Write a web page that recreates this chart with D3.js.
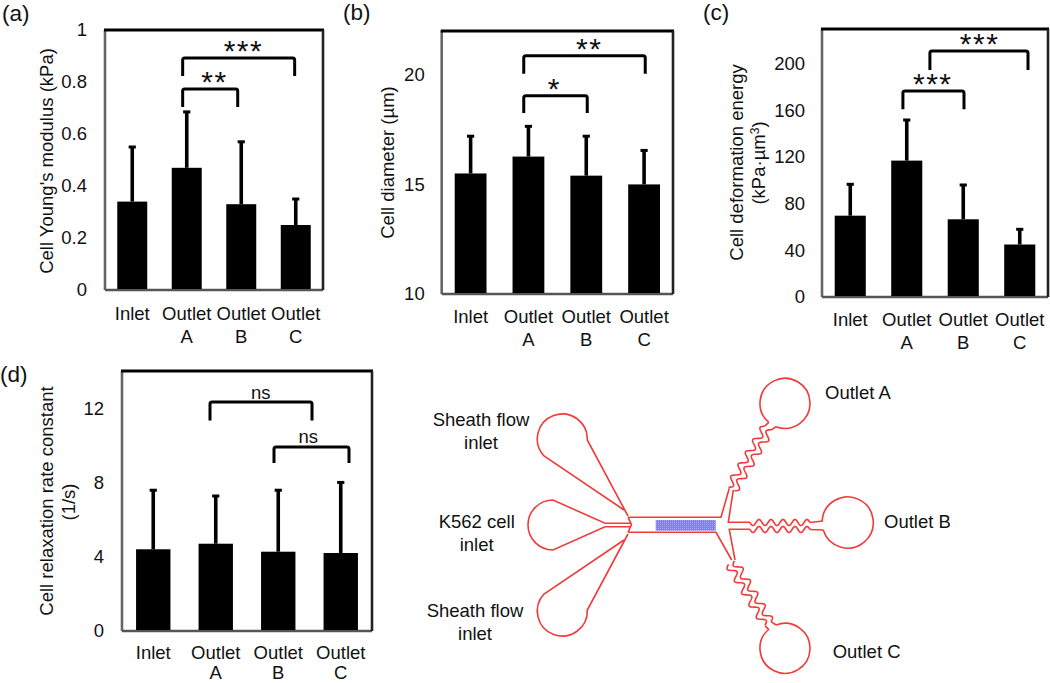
<!DOCTYPE html>
<html lang="en">
<head>
<meta charset="UTF-8"/>
<title>Cell mechanics by outlet</title>
<script src="https://d3js.org/d3.v7.min.js"></script>
<style>
  html, body { margin: 0; padding: 0; background: #fff; }
  svg { display: block; }
  text { font-family: "Liberation Sans", Arial, sans-serif; fill: #111; }
  .tick text { font-size: 18.5px; }
  .chan { fill: none; stroke: #f23a3a; stroke-width: 1.6px; }
</style>
</head>
<body>
<svg id="fig" width="1050" height="683"></svg>
<script>
const categories = [['Inlet'], ['Outlet', 'A'], ['Outlet', 'B'], ['Outlet', 'C']];

const youngMean = [0.34, 0.47, 0.33, 0.25];
const youngTop = [0.55, 0.685, 0.57, 0.35];
const youngTicks = [0, 0.2, 0.4, 0.6, 0.8, 1];

const diameterMean = [15.5, 16.27, 15.4, 15.0];
const diameterTop = [17.2, 17.65, 17.2, 16.55];
const diameterTicks = [10, 15, 20];

const energyMean = [69.7, 116.9, 66.6, 45];
const energyTop = [96.6, 151.7, 96, 58];
const energyTicks = [0, 40, 80, 120, 160, 200];

const relaxMean = [4.4, 4.7, 4.27, 4.2];
const relaxTop = [7.58, 7.27, 7.58, 8];
const relaxTicks = [0, 4, 8, 12];

// brackets: from bar, to bar, top value, foot value, label, label bar position
const youngBrackets = [[0.925, 2.98, 0.892, 0.823, '***', 2.04], [0.925, 1.935, 0.773, 0.704, '**', 1.51]];
const diameterBrackets = [[0.919, 3.02, 20.87, 20.05, '**', 2.05], [0.919, 2.017, 19.05, 18.26, '*', 1.45]];
const energyBrackets = [[1.41, 3.146, 210.9, 194.6, '***', 2.29], [0.932, 2.013, 176.6, 161, '***', 1.46]];
const relaxBrackets = [[0.908, 2.54, 12.33, 11.34, 'ns', 1.72], [1.932, 3.132, 9.91, 9.05, 'ns', 2.48]];

const svg = d3.select('#fig');

function drawPanel(p) {
  const g = svg.append('g');
  const x = d3.scaleBand().domain(d3.range(4)).range([p.left, p.right]).paddingInner(0.45).paddingOuter(0.225);
  const y = d3.scaleLinear().domain(p.domain).range([p.bottom, p.top]);
  const mid = i => x(0) + x.bandwidth() / 2 + i * x.step();

  // frame: top and right are darker than left and bottom
  g.append('path').attr('d', `M${p.left},${p.bottom}V${p.top}`).attr('stroke', '#666').attr('stroke-width', 2.6);
  g.append('path').attr('d', `M${p.left},${p.bottom}H${p.right}`).attr('stroke', '#555').attr('stroke-width', 2.6);
  g.append('path').attr('d', `M${p.left - 1},${p.top}H${p.right + 1}`).attr('stroke', '#000').attr('stroke-width', 3);
  g.append('path').attr('d', `M${p.right},${p.top}V${p.bottom}`).attr('stroke', '#222').attr('stroke-width', 2.6);

  g.selectAll('.bar').data(p.mean).join('rect')
    .attr('class', 'bar').attr('fill', '#000')
    .attr('x', (d, i) => x(i)).attr('width', x.bandwidth())
    .attr('y', d => y(d)).attr('height', d => p.bottom - 1 - y(d));

  g.selectAll('.stem').data(p.mean).join('line')
    .attr('class', 'stem').attr('stroke', '#000').attr('stroke-width', 3.6)
    .attr('x1', (d, i) => mid(i)).attr('x2', (d, i) => mid(i))
    .attr('y1', d => y(d)).attr('y2', (d, i) => y(p.errTop[i]));
  g.selectAll('.cap').data(p.errTop).join('line')
    .attr('class', 'cap').attr('stroke', '#000').attr('stroke-width', 3)
    .attr('x1', (d, i) => mid(i) - 3.6).attr('x2', (d, i) => mid(i) + 3.6)
    .attr('y1', d => y(d)).attr('y2', d => y(d));

  // axes carry labels only, no tick marks
  const yAxis = g.append('g').attr('transform', `translate(${p.left},0)`)
    .call(d3.axisLeft(y).tickValues(p.ticks).tickSize(0).tickPadding(p.padY).tickFormat(d3.format('~g')));
  yAxis.select('.domain').remove();

  const xAxis = g.append('g').attr('transform', `translate(0,${p.labelY})`)
    .call(d3.axisBottom(x).tickSize(0).tickPadding(0).tickFormat(''));
  xAxis.select('.domain').remove();
  xAxis.selectAll('.tick text').attr('y', 0).attr('dy', 0).each(function (d) {
    d3.select(this).selectAll('tspan').data(categories[d]).join('tspan')
      .attr('x', 0).attr('y', (t, i) => i * p.lineGap).text(t => t);
  });

  p.brackets.forEach(b => {
    const [from, to, topV, footV, label, labelAt] = b;
    const yT = y(topV), yF = y(footV);
    g.append('path').attr('fill', 'none').attr('stroke', '#000').attr('stroke-width', 3)
      .attr('d', `M${mid(from)},${yF}V${yT + 2}Q${mid(from)},${yT} ${mid(from) + 2},${yT}H${mid(to) - 2}Q${mid(to)},${yT} ${mid(to)},${yT + 2}V${yF}`);
    const isStar = label !== 'ns';
    g.append('text').attr('x', mid(labelAt)).attr('text-anchor', 'middle')
      .attr('y', isStar ? yT + 3 : yT - 3.5)
      .attr('font-size', isStar ? 30 : 18.5)
      .attr('letter-spacing', isStar ? 1.5 : 0)
      .text(label);
  });

  p.titles.forEach(t => {
    g.append('text').attr('text-anchor', 'middle').attr('font-size', 18.5)
      .attr('transform', `translate(${t.x},${t.y}) rotate(-90)`)
      .call(sel => t.parts.forEach(part => {
        sel.append('tspan').text(part.s)
          .attr('font-size', part.size || null)
          .attr('dy', part.dy || null);
      }));
  });

  g.append('text').attr('x', p.tagX).attr('y', p.tagY).attr('font-size', 22.5).text(p.tag);
}

drawPanel({
  tag: '(a)', tagX: 2, tagY: 21, left: 105, right: 323, top: 30, bottom: 290,
  domain: [0, 1], ticks: youngTicks, mean: youngMean, errTop: youngTop, brackets: youngBrackets,
  padY: 18, labelY: 320, lineGap: 23,
  titles: [{x: 53, y: 161, parts: [{s: "Cell Young's modulus (kPa)"}]}]
});
drawPanel({
  tag: '(b)', tagX: 343, tagY: 20, left: 441.7, right: 673, top: 31, bottom: 294,
  domain: [10, 22], ticks: diameterTicks, mean: diameterMean, errTop: diameterTop, brackets: diameterBrackets,
  padY: 17, labelY: 322.5, lineGap: 23,
  titles: [{x: 394, y: 162.5, parts: [{s: 'Cell diameter (µm)'}]}]
});
drawPanel({
  tag: '(c)', tagX: 703, tagY: 20, left: 822, right: 1048, top: 29, bottom: 297,
  domain: [0, 229.7], ticks: energyTicks, mean: energyMean, errTop: energyTop, brackets: energyBrackets,
  padY: 17, labelY: 326, lineGap: 23,
  titles: [
    {x: 743, y: 162.5, parts: [{s: 'Cell deformation energy'}]},
    {x: 765, y: 163, parts: [{s: '(kPa·µm'}, {s: '3', size: 12, dy: -6}, {s: ')', dy: 6}]}
  ]
});
drawPanel({
  tag: '(d)', tagX: 0, tagY: 381.5, left: 122, right: 372, top: 371, bottom: 631,
  domain: [0, 14], ticks: relaxTicks, mean: relaxMean, errTop: relaxTop, brackets: relaxBrackets,
  padY: 18, labelY: 659, lineGap: 20,
  titles: [
    {x: 53, y: 501, parts: [{s: 'Cell relaxation rate constant'}]},
    {x: 75, y: 502, parts: [{s: '(1/s)'}]}
  ]
});

// --- device schematic ---
const chip = svg.append('g').attr('class', 'chip');
const line = d3.line();

function chan(d) { chip.append('path').attr('class', 'chan').attr('d', d); }

const dots = svg.append('defs').append('pattern').attr('id', 'sample')
  .attr('width', 2).attr('height', 2).attr('patternUnits', 'userSpaceOnUse');
dots.append('rect').attr('width', 2).attr('height', 2).attr('fill', '#7f7ff0');
dots.append('rect').attr('width', 1).attr('height', 1).attr('fill', '#a8a8f6');

// teardrop inlets
chan('M628,516L587.3,440A25,25 0 1 0 544,456L624,510');
chan('M628,534L587.3,610A25,25 0 1 1 544,594L624,540');
chan('M630.7,523.3H605L553,500A25,25 0 1 0 553,550L605,526.7H630.7');

// main channel and the side walls leading to the serpentines
chan('M628,517.3H721L729.3,488.3');
chan('M628,532.3H716L731.7,560');
chan('M628,517.3L631.5,524.5L628,532.3');
chan('M733.3,490L728.3,522.3H750');
chan('M735,560L729.3,529.3H750');
chip.append('rect').attr('x', 655.7).attr('y', 520).attr('width', 60).attr('height', 10.7)
  .attr('fill', 'url(#sample)');

// wavy channel wall: same wave shifted sideways for each wall
function wavy(ax, ay, bx, by, turns, amp, offset) {
  const dx = bx - ax, dy = by - ay, len = Math.hypot(dx, dy);
  const nx = -dy / len, ny = dx / len;
  const pts = d3.range(0, 1.0001, 1 / (turns * 24)).map(t => {
    const s = Math.sin(2 * Math.PI * turns * t) * amp + offset;
    return [ax + dx * t + nx * s, ay + dy * t + ny * s];
  });
  chan(line(pts));
}
[-3.5, 3.5].forEach(o => {
  wavy(731.5, 489, 768, 428, 5, 3.6, o);
  wavy(750, 526, 810, 526, 5, 3, o);
  wavy(731.5, 562.6, 768, 623.6, 5, 3.6, o);
});

// outlet necks
chan('M765,425.8L768.8,422.3');
chan('M771.2,430L776,426.6');
chan('M810,522.5L823,521');
chan('M810,529.5L823,530');
chan('M765,625.8L768.8,629.3');
chan('M771.2,621.6L776,625');

// outlet reservoirs, open where the neck joins
function reservoir(cx, cy, r, towards, gap) {
  const p = d3.path();
  p.arc(cx, cy, r, towards + gap, towards + 2 * Math.PI - gap);
  chan(p.toString());
}
reservoir(785, 403.3, 25, Math.PI * 0.67, 0.17);
reservoir(847.7, 522.5, 25.6, Math.PI - 0.115, 0.175);
reservoir(785, 648.3, 25, -Math.PI * 0.67, 0.17);

const chipLabels = [
  ['Sheath flow', 481, 425.5], ['inlet', 481, 448.5],
  ['K562 cell', 476.7, 528], ['inlet', 476.7, 551],
  ['Sheath flow', 475, 616.5], ['inlet', 475, 639.5]
];
chip.selectAll('.lab').data(chipLabels).join('text')
  .attr('class', 'lab').attr('text-anchor', 'middle').attr('font-size', 18.5)
  .attr('x', d => d[1]).attr('y', d => d[2]).text(d => d[0]);

const outletLabels = [['Outlet A', 825, 399], ['Outlet B', 884, 528], ['Outlet C', 832.7, 658]];
chip.selectAll('.out').data(outletLabels).join('text')
  .attr('class', 'out').attr('font-size', 18.5)
  .attr('x', d => d[1]).attr('y', d => d[2]).text(d => d[0]);
</script>
</body>
</html>
